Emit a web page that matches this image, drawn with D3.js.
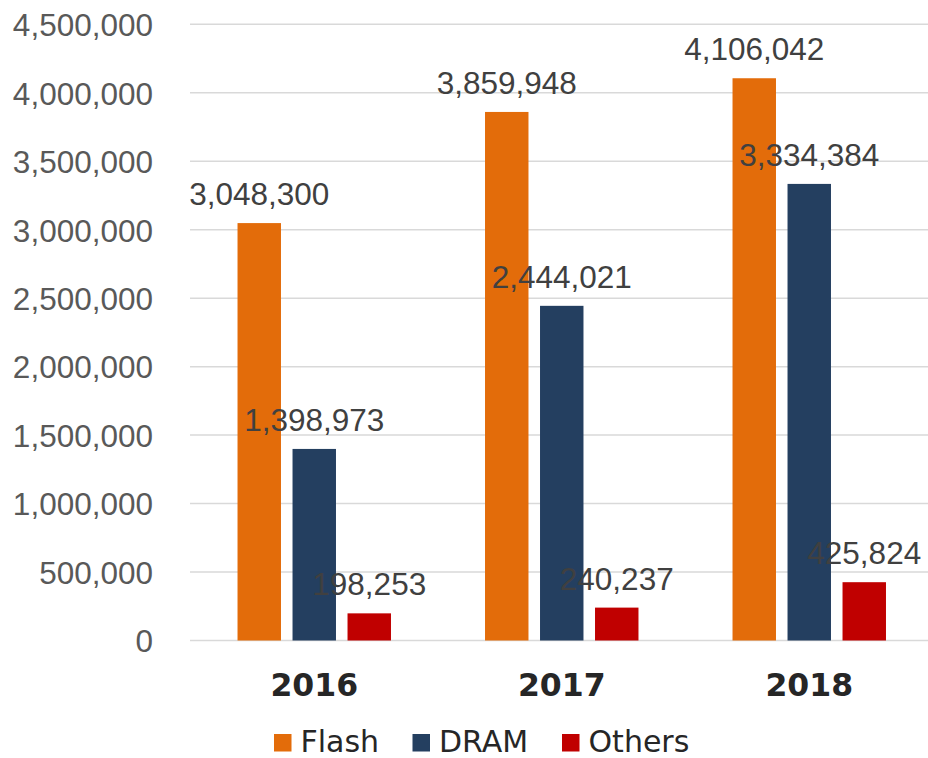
<!DOCTYPE html>
<html lang="en">
<head>
    <meta charset="UTF-8">
    <title>Flash / DRAM / Others</title>
    <script src="https://cdn.jsdelivr.net/npm/d3@7"></script>
    <style>
        body { margin: 0; background: #fff; }
    </style>
</head>
<body>
<svg></svg>
<script>
    const years = ["2016", "2017", "2018"];
    const series = ["Flash", "DRAM", "Others"];
    const flash = [3048300, 3859948, 4106042];
    const dram = [1398973, 2444021, 3334384];
    const others = [198253, 240237, 425824];
    const colors = ["#e36c0a", "#243f60", "#c00000"];
    const yTicks = [0, 500000, 1000000, 1500000, 2000000, 2500000, 3000000, 3500000, 4000000, 4500000];

    const width = 928, height = 758;
    const numFont = "'Liberation Sans', Arial, sans-serif";

    const values = [flash, dram, others];
    const rows = [];
    years.forEach((yr, i) => series.forEach((s, j) => rows.push({year: yr, series: s, value: values[j][i]})));

    const svg = d3.select("svg")
        .attr("width", width)
        .attr("height", height);

    const x0 = d3.scaleBand()
        .domain(years)
        .range([190.5, 933])
        .padding(0);

    const x1 = d3.scaleBand()
        .domain(series)
        .range([0, x0.bandwidth()])
        .paddingInner(0.21)
        .paddingOuter(0.855);

    const y = d3.scaleLinear()
        .domain([0, 4500000])
        .range([640.5, 24.3]);

    const color = d3.scaleOrdinal().domain(series).range(colors);

    // gridlines
    svg.append("g")
        .selectAll("line")
        .data(yTicks)
        .join("line")
        .attr("x1", 190)
        .attr("x2", width)
        .attr("y1", d => y(d))
        .attr("y2", d => y(d))
        .attr("stroke", "#d9d9d9")
        .attr("stroke-width", 1.5);

    // y axis labels
    const yAxis = d3.axisLeft(y).tickValues(yTicks).tickFormat(d3.format(",")).tickSize(0).tickPadding(0);
    svg.append("g")
        .attr("transform", "translate(153,0)")
        .call(yAxis)
        .call(g => g.select(".domain").remove())
        .call(g => g.selectAll("text")
            .attr("fill", "#595959")
            .attr("dy", "0.36em")
            .style("font", "31.5px " + numFont));

    // bars
    svg.append("g")
        .selectAll("rect")
        .data(rows)
        .join("rect")
        .attr("x", d => x0(d.year) + x1(d.series))
        .attr("width", x1.bandwidth())
        .attr("y", d => y(d.value))
        .attr("height", d => y(0) - y(d.value))
        .attr("fill", d => color(d.series));

    // value labels
    svg.append("g")
        .selectAll("text")
        .data(rows)
        .join("text")
        .attr("x", d => x0(d.year) + x1(d.series) + x1.bandwidth() / 2)
        .attr("y", d => y(d.value) - 18)
        .attr("text-anchor", "middle")
        .attr("fill", "#404040")
        .style("font", "31.5px " + numFont)
        .text(d => d3.format(",")(d.value));

    // x axis labels
    const xAxis = d3.axisBottom(x0).tickSize(0).tickPadding(0);
    svg.append("g")
        .attr("transform", "translate(0,696)")
        .call(xAxis)
        .call(g => g.select(".domain").remove())
        .call(g => g.selectAll("text")
            .attr("dy", 0)
            .attr("fill", "#262626")
            .style("font", "bold 31.5px 'DejaVu Sans', Verdana, sans-serif"));

    // legend
    const legendX = [274, 412.5, 562];
    const legend = svg.append("g")
        .selectAll("g")
        .data(series)
        .join("g")
        .attr("transform", (d, i) => `translate(${legendX[i]},734)`);

    legend.append("rect")
        .attr("width", 17.5)
        .attr("height", 17.5)
        .attr("fill", d => color(d));

    legend.append("text")
        .attr("x", 26.5)
        .attr("y", 17.5)
        .attr("fill", "#262626")
        .style("font", "30px 'DejaVu Sans', Verdana, sans-serif")
        .text(d => d);
</script>
</body>
</html>
